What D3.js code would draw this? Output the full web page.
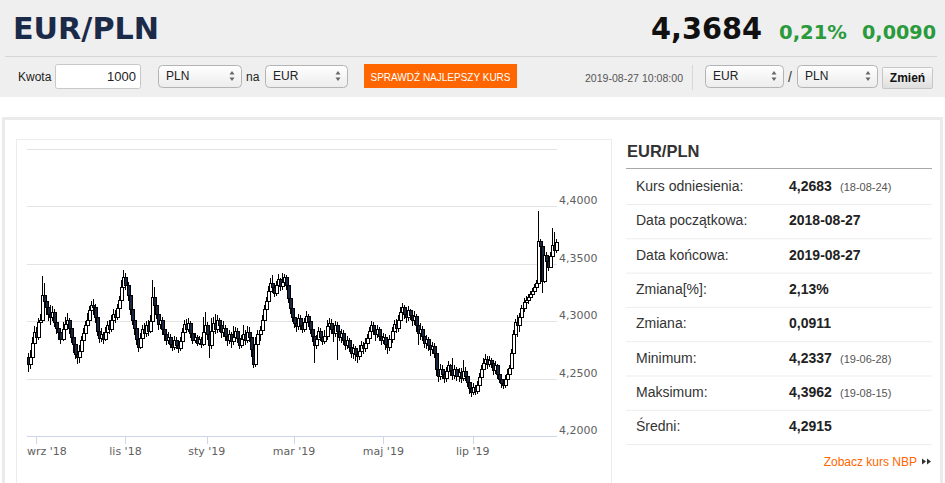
<!DOCTYPE html>
<html>
<head>
<meta charset="utf-8">
<script src="https://cdn.jsdelivr.net/npm/d3@7"></script>
<style>
 body{margin:0;background:#fff;}
 svg{display:block;font-family:"Liberation Sans",Arial,sans-serif;}
</style>
</head>
<body>
<svg id="page" width="945" height="483"></svg>
<script>
// header / quote
const pair = "EUR/PLN";
const lastRate = "4,3684";
const changePct = "0,21%";
const changeAbs = "0,0090";
const quoteTime = "2019-08-27 10:08:00";

// daily candles, 2018-08-27 .. 2019-08-27 (open = previous close)
const refRate = 4.2683;
const closes = [
 4.262,4.268,4.281,4.290,4.286,4.299,4.301,4.322,4.317,4.312,
 4.306,4.303,4.308,4.299,4.294,4.290,4.284,4.293,4.297,4.301,
 4.294,4.286,4.280,4.271,4.268,4.274,4.283,4.289,4.296,4.301,
 4.309,4.314,4.312,4.303,4.291,4.285,4.288,4.284,4.290,4.296,
 4.293,4.301,4.306,4.303,4.311,4.318,4.329,4.338,4.331,4.322,
 4.310,4.301,4.294,4.284,4.277,4.285,4.293,4.289,4.296,4.291,
 4.300,4.321,4.314,4.306,4.297,4.301,4.293,4.288,4.283,4.286,
 4.280,4.277,4.283,4.279,4.276,4.282,4.290,4.297,4.293,4.298,
 4.289,4.283,4.286,4.281,4.284,4.280,4.290,4.296,4.288,4.279,
 4.291,4.298,4.293,4.301,4.296,4.290,4.294,4.287,4.283,4.288,
 4.282,4.286,4.291,4.285,4.279,4.284,4.288,4.283,4.290,4.286,
 4.275,4.262,4.280,4.288,4.292,4.301,4.310,4.317,4.326,4.333,
 4.329,4.324,4.331,4.336,4.330,4.334,4.338,4.331,4.320,4.311,
 4.303,4.298,4.295,4.302,4.296,4.293,4.299,4.304,4.300,4.293,
 4.287,4.279,4.284,4.291,4.286,4.282,4.287,4.295,4.298,4.293,
 4.289,4.296,4.291,4.286,4.289,4.283,4.279,4.283,4.277,4.272,
 4.276,4.271,4.269,4.274,4.279,4.276,4.281,4.285,4.291,4.296,
 4.292,4.288,4.293,4.287,4.283,4.286,4.280,4.277,4.284,4.291,
 4.297,4.294,4.301,4.308,4.312,4.306,4.303,4.309,4.305,4.301,
 4.304,4.296,4.289,4.293,4.287,4.281,4.284,4.279,4.275,4.278,
 4.272,4.258,4.252,4.258,4.254,4.250,4.256,4.261,4.257,4.253,
 4.258,4.252,4.255,4.250,4.256,4.252,4.247,4.241,4.238,4.242,
 4.239,4.244,4.251,4.258,4.263,4.267,4.262,4.266,4.263,4.257,
 4.261,4.254,4.249,4.246,4.244,4.249,4.254,4.259,4.272,4.288,
 4.299,4.296,4.303,4.311,4.316,4.318,4.321,4.323,4.326,4.329,
 4.333,4.369,4.365,4.335,4.357,4.352,4.347,4.356,4.366,4.362,
 4.3684
];
const highs = [
 4.272,4.275,4.286,4.296,4.295,4.303,4.306,4.339,4.333,4.322,
 4.316,4.314,4.313,4.311,4.304,4.298,4.293,4.299,4.304,4.307,
 4.303,4.297,4.289,4.284,4.276,4.279,4.287,4.294,4.300,4.307,
 4.313,4.318,4.319,4.315,4.305,4.294,4.294,4.291,4.295,4.300,
 4.301,4.305,4.311,4.310,4.315,4.322,4.336,4.345,4.342,4.334,
 4.325,4.313,4.303,4.297,4.288,4.290,4.297,4.298,4.300,4.301,
 4.305,4.336,4.330,4.318,4.310,4.306,4.304,4.296,4.292,4.291,
 4.289,4.285,4.287,4.286,4.283,4.286,4.294,4.301,4.302,4.303,
 4.300,4.292,4.290,4.288,4.287,4.286,4.304,4.308,4.299,4.292,
 4.303,4.304,4.306,4.305,4.303,4.299,4.300,4.297,4.290,4.292,
 4.291,4.296,4.295,4.294,4.289,4.288,4.297,4.292,4.296,4.295,
 4.291,4.279,4.286,4.292,4.296,4.305,4.314,4.321,4.331,4.338,
 4.340,4.332,4.335,4.341,4.338,4.342,4.341,4.340,4.334,4.323,
 4.314,4.307,4.301,4.306,4.305,4.300,4.303,4.309,4.306,4.303,
 4.297,4.290,4.288,4.295,4.294,4.289,4.292,4.301,4.303,4.302,
 4.297,4.300,4.299,4.295,4.293,4.292,4.287,4.287,4.285,4.281,
 4.280,4.278,4.276,4.279,4.283,4.282,4.285,4.289,4.295,4.300,
 4.299,4.295,4.297,4.295,4.291,4.290,4.289,4.284,4.288,4.295,
 4.301,4.302,4.305,4.312,4.316,4.314,4.309,4.313,4.311,4.308,
 4.309,4.306,4.300,4.298,4.296,4.290,4.288,4.286,4.283,4.282,
 4.281,4.274,4.262,4.263,4.262,4.258,4.260,4.265,4.263,4.268,
 4.262,4.260,4.259,4.259,4.266,4.260,4.256,4.251,4.246,4.246,
 4.244,4.248,4.255,4.262,4.268,4.271,4.270,4.270,4.268,4.266,
 4.265,4.263,4.258,4.253,4.250,4.253,4.258,4.262,4.276,4.292,
 4.302,4.305,4.307,4.314,4.320,4.322,4.324,4.326,4.329,4.332,
 4.336,4.3962,4.372,4.368,4.362,4.360,4.356,4.360,4.381,4.378,
 4.372
];
const lows = [
 4.256,4.258,4.265,4.279,4.280,4.284,4.293,4.298,4.309,4.305,
 4.300,4.297,4.300,4.295,4.289,4.284,4.280,4.283,4.290,4.292,
 4.289,4.281,4.272,4.267,4.263,4.264,4.270,4.280,4.285,4.292,
 4.298,4.304,4.305,4.298,4.287,4.281,4.282,4.280,4.283,4.287,
 4.289,4.291,4.299,4.298,4.301,4.308,4.316,4.326,4.327,4.318,
 4.305,4.297,4.288,4.279,4.273,4.276,4.282,4.285,4.286,4.287,
 4.290,4.298,4.309,4.302,4.292,4.293,4.288,4.283,4.279,4.280,
 4.277,4.274,4.275,4.276,4.272,4.274,4.280,4.288,4.290,4.291,
 4.285,4.280,4.281,4.278,4.279,4.277,4.278,4.287,4.284,4.268,
 4.276,4.289,4.289,4.290,4.291,4.285,4.286,4.283,4.278,4.280,
 4.277,4.279,4.283,4.281,4.276,4.277,4.282,4.279,4.281,4.282,
 4.269,4.259,4.260,4.277,4.283,4.290,4.299,4.307,4.315,4.323,
 4.325,4.321,4.322,4.328,4.326,4.327,4.330,4.327,4.316,4.306,
 4.299,4.294,4.291,4.292,4.292,4.290,4.291,4.295,4.295,4.289,
 4.282,4.264,4.276,4.280,4.283,4.279,4.280,4.284,4.290,4.289,
 4.282,4.286,4.266,4.283,4.281,4.279,4.275,4.276,4.273,4.268,
 4.267,4.265,4.264,4.266,4.270,4.271,4.273,4.278,4.282,4.287,
 4.288,4.283,4.285,4.283,4.279,4.280,4.275,4.271,4.274,4.281,
 4.287,4.290,4.291,4.298,4.303,4.302,4.298,4.300,4.301,4.296,
 4.297,4.291,4.279,4.284,4.283,4.277,4.276,4.274,4.270,4.271,
 4.268,4.252,4.247,4.249,4.250,4.246,4.247,4.251,4.252,4.249,
 4.250,4.248,4.247,4.246,4.248,4.248,4.243,4.237,4.2337,4.236,
 4.236,4.237,4.241,4.249,4.255,4.259,4.258,4.260,4.259,4.253,
 4.254,4.250,4.246,4.242,4.241,4.242,4.246,4.250,4.257,4.270,
 4.285,4.286,4.291,4.300,4.308,4.313,4.315,4.318,4.320,4.324,
 4.326,4.331,4.340,4.325,4.333,4.346,4.344,4.346,4.354,4.357,
 4.359
];

// axes
const yTicks = [4.20, 4.25, 4.30, 4.35, 4.40, 4.45];
const monthLabels = ["wrz '18", "lis '18", "sty '19", "mar '19", "maj '19", "lip '19"];
const monthIndex = [4, 48, 88, 131, 175, 219];   // trading-day index of month start

// stats table
const statLabels = ["Kurs odniesienia:", "Data początkowa:", "Data końcowa:", "Zmiana[%]:",
                    "Zmiana:", "Minimum:", "Maksimum:", "Średni:"];
const statValues = ["4,2683", "2018-08-27", "2019-08-27", "2,13%", "0,0911", "4,2337", "4,3962", "4,2915"];
const statDates  = ["(18-08-24)", "", "", "", "", "(19-06-28)", "(19-08-15)", ""];

const svg = d3.select("#page");
const defs = svg.append("defs");
const selGrad = defs.append("linearGradient").attr("id","selGrad").attr("x1",0).attr("y1",0).attr("x2",0).attr("y2",1);
selGrad.append("stop").attr("offset","0%").attr("stop-color","#ffffff");
selGrad.append("stop").attr("offset","100%").attr("stop-color","#ececec");
const btnGrad = defs.append("linearGradient").attr("id","btnGrad").attr("x1",0).attr("y1",0).attr("x2",0).attr("y2",1);
btnGrad.append("stop").attr("offset","0%").attr("stop-color","#fbfbfb");
btnGrad.append("stop").attr("offset","100%").attr("stop-color","#dedede");

//---- header band
svg.append("rect").attr("x",0).attr("y",0).attr("width",945).attr("height",97).attr("fill","#efefef");
svg.append("line").attr("x1",5).attr("x2",937).attr("y1",56.5).attr("y2",56.5).attr("stroke","#d6d6d6");

const bigFont = "'DejaVu Sans', Verdana, sans-serif";
svg.append("text").attr("x",13).attr("y",39).text(pair)
  .style("font-family",bigFont).style("font-weight","bold").style("font-size","30px")
  .attr("fill","#1b2a48").attr("textLength",146).attr("lengthAdjust","spacingAndGlyphs");
svg.append("text").attr("x",651).attr("y",39).text(lastRate)
  .style("font-family",bigFont).style("font-weight","bold").style("font-size","30px")
  .attr("fill","#111").attr("textLength",111).attr("lengthAdjust","spacingAndGlyphs");
svg.append("text").attr("x",779).attr("y",39).text(changePct)
  .style("font-family",bigFont).style("font-weight","bold").style("font-size","19.5px")
  .attr("fill","#2a9a3c").attr("textLength",68).attr("lengthAdjust","spacingAndGlyphs");
svg.append("text").attr("x",862).attr("y",39).text(changeAbs)
  .style("font-family",bigFont).style("font-weight","bold").style("font-size","19.5px")
  .attr("fill","#2a9a3c").attr("textLength",74).attr("lengthAdjust","spacingAndGlyphs");

// converter row
function selectBox(x0, y0, w, h, label){
  const g = svg.append("g");
  g.append("rect").attr("x",x0+0.5).attr("y",y0+0.5).attr("width",w).attr("height",h).attr("rx",4)
    .attr("fill","url(#selGrad)").attr("stroke","#b4b4b4");
  g.append("text").attr("x",x0+8).attr("y",y0+15).text(label).style("font-size","12px").attr("fill","#222");
  const ax = x0 + w - 9, ay = y0 + h/2;
  g.append("path").attr("d",`M${ax-2.5},${ay-1.5}L${ax+2.5},${ay-1.5}L${ax},${ay-5}Z M${ax-2.5},${ay+1.5}L${ax+2.5},${ay+1.5}L${ax},${ay+5}Z`)
    .attr("fill","#666");
}
svg.append("text").attr("x",18).attr("y",81).text("Kwota").style("font-size","12px").attr("fill","#222");
svg.append("rect").attr("x",55.5).attr("y",64.5).attr("width",85).attr("height",24).attr("rx",2)
  .attr("fill","#fff").attr("stroke","#c8c8c8");
svg.append("text").attr("x",136).attr("y",81).attr("text-anchor","end").text("1000").style("font-size","13px").attr("fill","#222");
selectBox(158, 65, 83, 22, "PLN");
svg.append("text").attr("x",246).attr("y",81).text("na").style("font-size","12px").attr("fill","#222");
selectBox(265, 65, 82, 22, "EUR");
svg.append("rect").attr("x",364).attr("y",64).attr("width",153).attr("height",24).attr("fill","#ff6600");
svg.append("text").attr("x",440.5).attr("y",80.5).attr("text-anchor","middle").text("SPRAWDŹ NAJLEPSZY KURS")
  .style("font-size","11px").attr("fill","#fff").attr("textLength",140).attr("lengthAdjust","spacingAndGlyphs");
svg.append("text").attr("x",683).attr("y",82).attr("text-anchor","end").text(quoteTime)
  .style("font-size","10.5px").attr("fill","#555").attr("textLength",98).attr("lengthAdjust","spacingAndGlyphs");
svg.append("line").attr("x1",692.5).attr("x2",692.5).attr("y1",65).attr("y2",90).attr("stroke","#d8d8d8");
selectBox(705, 65, 78, 22, "EUR");
svg.append("text").attr("x",788).attr("y",82).text("/").style("font-size","14px").attr("fill","#333");
selectBox(797, 65, 80, 22, "PLN");
svg.append("rect").attr("x",882.5).attr("y",67.5).attr("width",50).attr("height",21).attr("rx",1)
  .attr("fill","url(#btnGrad)").attr("stroke","#c6c6c6");
svg.append("text").attr("x",907.5).attr("y",82).attr("text-anchor","middle").text("Zmień")
  .style("font-size","12px").style("font-weight","bold").attr("fill","#111");

//---- content card
svg.append("rect").attr("x",3.5).attr("y",118.5).attr("width",938).attr("height",400)
  .attr("fill","#fff").attr("stroke","#ebebeb").attr("stroke-width",3);
svg.append("rect").attr("x",16.5).attr("y",139.5).attr("width",595).attr("height",400)
  .attr("fill","#fff").attr("stroke","#ececec");

//---- candlestick chart
const x = d3.scaleLinear().domain([0, closes.length - 1]).range([28, 556]);
const y = d3.scaleLinear().domain([4.20, 4.45]).range([436, 149]);
const fmt = v => d3.format(".4f")(v).replace(".", ",");

svg.append("g").selectAll("line").data(yTicks).join("line")
  .attr("x1",27).attr("x2",557)
  .attr("y1",d=>Math.round(y(d))+0.5).attr("y2",d=>Math.round(y(d))+0.5)
  .attr("stroke","#e3e3e3");

svg.append("g").selectAll("text").data(yTicks.slice(0,-1)).join("text")
  .attr("x",559).attr("y",d=>y(d)-2).text(fmt)
  .style("font-family","'DejaVu Sans', Verdana, sans-serif").style("font-size","11px").attr("fill","#606060");

// x axis
svg.append("line").attr("x1",27).attr("x2",557).attr("y1",436.5).attr("y2",436.5).attr("stroke","#ccd6eb");
svg.append("g").selectAll("line").data(monthIndex).join("line")
  .attr("x1",d=>Math.round(x(d))+0.5).attr("x2",d=>Math.round(x(d))+0.5)
  .attr("y1",436).attr("y2",444).attr("stroke","#ccd6eb");
svg.append("g").selectAll("text").data(monthIndex).join("text")
  .attr("x",d=>x(d)).attr("y",455).attr("text-anchor","middle")
  .text((d,i)=>monthLabels[i])
  .style("font-family","'DejaVu Sans', Verdana, sans-serif").style("font-size","11px").attr("fill","#606060")
  .each(function(){
    const b = this.getBBox();
    if (b.x < 27) d3.select(this).attr("x", +d3.select(this).attr("x") + (27 - b.x));
  });

const candles = closes.map((c, i) => ({i, o: i ? closes[i-1] : refRate, c, h: highs[i], l: lows[i]}));
const cg = svg.append("g").attr("shape-rendering","crispEdges");
cg.selectAll("line").data(candles).join("line")
  .attr("x1",d=>Math.round(x(d.i))+0.5).attr("x2",d=>Math.round(x(d.i))+0.5)
  .attr("y1",d=>y(Math.max(d.h,d.o,d.c))).attr("y2",d=>y(Math.min(d.l,d.o,d.c)))
  .attr("stroke","#000");
cg.selectAll("rect").data(candles).join("rect")
  .attr("x",d=>Math.round(x(d.i))-1).attr("width",3)
  .attr("y",d=>y(Math.max(d.o,d.c)))
  .attr("height",d=>Math.max(1, Math.abs(y(d.o)-y(d.c))))
  .attr("fill",d=>d.c >= d.o ? "#fff" : "#172741")
  .attr("stroke","#000");

//---- stats panel
svg.append("text").attr("x",627).attr("y",157).text(pair)
  .style("font-size","16.5px").style("font-weight","bold").attr("fill","#333");
svg.append("line").attr("x1",626).attr("x2",932).attr("y1",168.5).attr("y2",168.5).attr("stroke","#a8a8a8");

const rowH = 34.3;
const rows = svg.append("g").selectAll("g").data(statLabels).join("g")
  .attr("transform",(d,i)=>`translate(0,${191 + i*rowH})`);
rows.append("text").attr("x",636).text(d=>d).style("font-size","14px").attr("fill","#333");
rows.append("text").attr("x",789).text((d,i)=>statValues[i])
  .style("font-size","14px").style("font-weight","bold").attr("fill","#222");
rows.append("text").attr("x",840).text((d,i)=>statDates[i]).style("font-size","11px").attr("fill","#555");
rows.append("line").attr("x1",626).attr("x2",932).attr("y1",13.5).attr("y2",13.5).attr("stroke","#ededed");

svg.append("text").attr("x",917).attr("y",466).attr("text-anchor","end").text("Zobacz kurs NBP")
  .style("font-size","12px").attr("fill","#ff6600");
svg.append("path").attr("d","M922,458.5L926,461.5L922,464.5Z M927,458.5L931,461.5L927,464.5Z").attr("fill","#333");
</script>
</body>
</html>
